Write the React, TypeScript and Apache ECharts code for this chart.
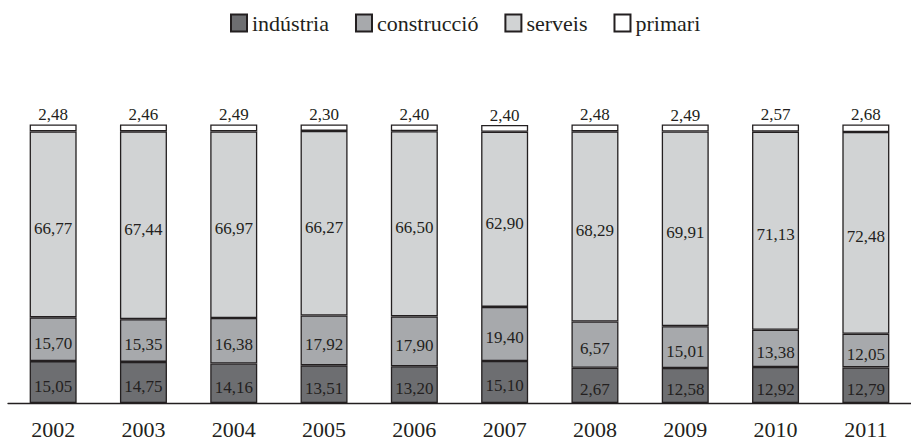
import React, { useEffect, useRef } from "react";
import * as echarts from "echarts";

const years = ["2002", "2003", "2004", "2005", "2006", "2007", "2008", "2009", "2010", "2011"];
// bar heights
const industria = [15.05, 14.75, 14.16, 13.51, 13.2, 15.1, 12.67, 12.58, 12.92, 12.79];
const construccio = [15.7, 15.35, 16.38, 17.92, 17.9, 19.4, 16.57, 15.01, 13.38, 12.05];
const serveis = [66.77, 67.44, 66.97, 66.27, 66.5, 62.9, 68.29, 69.91, 71.13, 72.48];
const primari = [2.48, 2.46, 2.49, 2.3, 2.4, 2.4, 2.48, 2.49, 2.57, 2.68];
// labels as printed in the source (2008 shows truncated figures)
const industriaLabels = ["15,05", "14,75", "14,16", "13,51", "13,20", "15,10", "2,67", "12,58", "12,92", "12,79"];
const construccioLabels = ["15,70", "15,35", "16,38", "17,92", "17,90", "19,40", "6,57", "15,01", "13,38", "12,05"];

const FONT = "'Liberation Serif', 'DejaVu Serif', serif";
const TEXT = "#231f20";
const fmt = (v: number) => v.toFixed(2).replace(".", ",");

export default function App() {
  const ref = useRef<HTMLDivElement>(null);
  useEffect(() => {
    if (!ref.current) return;
    const chart = echarts.init(ref.current, undefined, { renderer: "svg" });
    const border = { borderColor: "#231f20", borderWidth: 1.3 };
    const labelBase = {
      show: true,
      fontFamily: FONT,
      fontSize: 17,
      color: TEXT,
    };
    const mk = (name: string, data: number[], color: string, labels?: string[], top?: boolean) => ({
      name,
      type: "bar",
      stack: "total",
      barWidth: 47,
      data,
      itemStyle: { color, ...border },
      label: top
        ? { ...labelBase, position: "top", distance: 1, formatter: (p: any) => fmt(p.value) }
        : {
            ...labelBase,
            position: "inside",
            offset: [0, 4],
            formatter: (p: any) => (labels ? labels[p.dataIndex] : fmt(p.value)),
          },
      emphasis: { disabled: true },
    });
    chart.setOption({
      animation: false,
      textStyle: { fontFamily: FONT },
      legend: {
        top: 7,
        left: 225,
        itemWidth: 16,
        itemHeight: 17,
        itemGap: 26,
        icon: "rect",
        textStyle: { fontFamily: FONT, fontSize: 22, color: TEXT },
        data: ["indústria", "construcció", "serveis", "primari"],
      },
      grid: { left: 8, right: -9, top: 121.7, bottom: 36.5, containLabel: false },
      xAxis: {
        type: "category",
        data: years,
        axisLine: { show: true, lineStyle: { color: "#231f20", width: 1.3 } },
        axisTick: { show: false },
        axisLabel: { fontFamily: FONT, fontSize: 22, color: TEXT, margin: 15 },
      },
      yAxis: {
        type: "value",
        min: 0,
        max: 101,
        show: false,
        splitLine: { show: false },
      },
      series: [
        mk("indústria", industria, "#6d6e71", industriaLabels),
        mk("construcció", construccio, "#a7a9ac", construccioLabels),
        mk("serveis", serveis, "#d1d3d4"),
        mk("primari", primari, "#ffffff", undefined, true),
      ],
    });
    return () => chart.dispose();
  }, []);
  return <div ref={ref} style={{ width: 911, height: 440, position: "absolute", left: 0, top: 0 }} />;
}
